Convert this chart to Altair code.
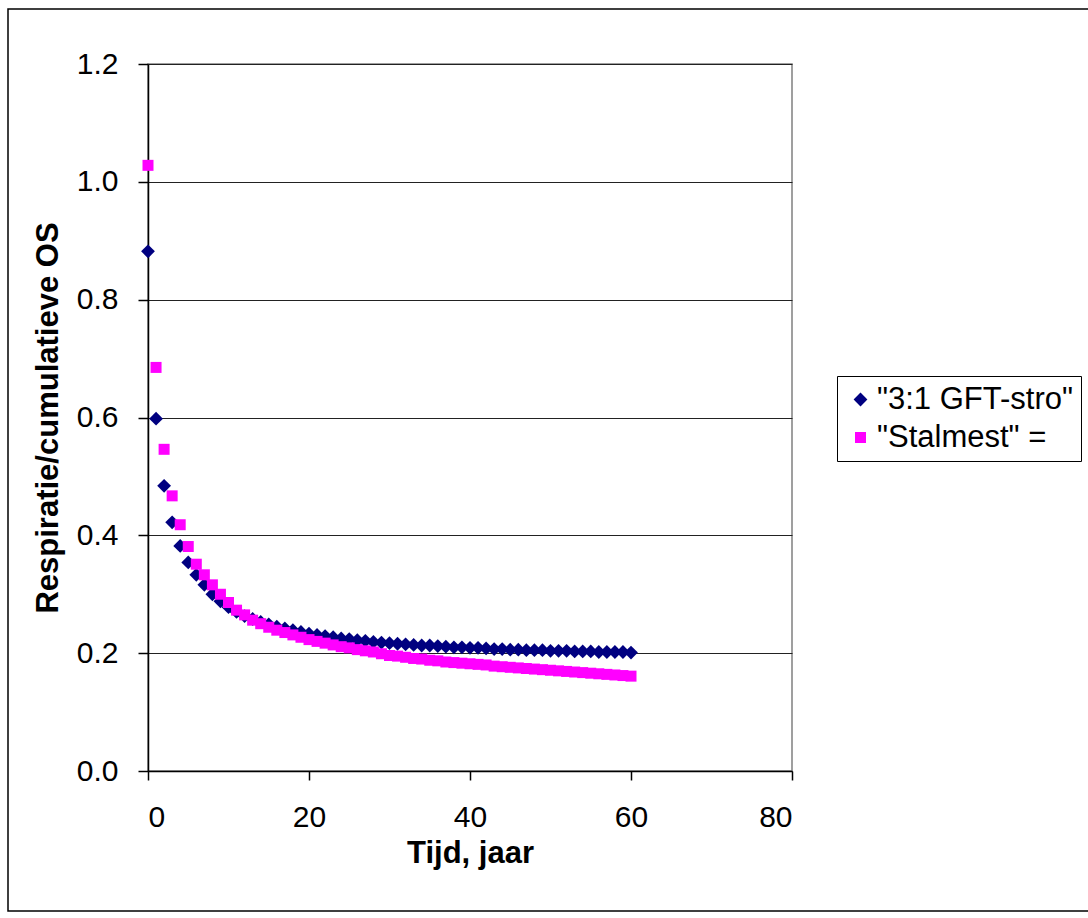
import altair as alt
import pandas as pd

years = list(range(61))

gft = [0.882, 0.598, 0.484, 0.422, 0.382, 0.354, 0.333, 0.316, 0.300, 0.288,
       0.278, 0.270, 0.263, 0.258, 0.253, 0.249, 0.245, 0.242, 0.239, 0.236,
       0.233, 0.231, 0.229, 0.227, 0.225, 0.224, 0.222, 0.221, 0.219, 0.218,
       0.217, 0.216, 0.215, 0.214, 0.213, 0.213, 0.212, 0.211, 0.210, 0.210,
       0.209, 0.209, 0.208, 0.207, 0.207, 0.206, 0.206, 0.205, 0.205, 0.205,
       0.204, 0.204, 0.204, 0.203, 0.203, 0.203, 0.202, 0.202, 0.202, 0.202,
       0.201]

stalmest = [1.028, 0.685, 0.546, 0.467, 0.418, 0.381, 0.351, 0.333, 0.316, 0.300,
            0.286, 0.273, 0.265, 0.256, 0.250, 0.244, 0.239, 0.235, 0.231, 0.227,
            0.223, 0.220, 0.217, 0.214, 0.211, 0.209, 0.206, 0.204, 0.202, 0.199,
            0.196, 0.195, 0.193, 0.191, 0.190, 0.188, 0.187, 0.185, 0.184, 0.183,
            0.182, 0.181, 0.180, 0.178, 0.177, 0.176, 0.175, 0.174, 0.173, 0.172,
            0.171, 0.170, 0.169, 0.168, 0.167, 0.166, 0.165, 0.164, 0.163, 0.162,
            0.161]

series_names = ['"3:1 GFT-stro"', '"Stalmest" =']
series_colors = ["#000080", "#FF00FF"]
series_shapes = ["diamond", "square"]
series_sizes = [190, 121]

x_ticks = [0, 20, 40, 60, 80]
y_ticks = [0.0, 0.2, 0.4, 0.6, 0.8, 1.0, 1.2]

rows = []
for name, vals in zip(series_names, [gft, stalmest]):
    for t, v in zip(years, vals):
        rows.append({"t": t, "v": v, "s": name})
df = pd.DataFrame(rows)

FONT = "Liberation Sans"

points = alt.Chart(df).mark_point(filled=True, opacity=1).encode(
    x=alt.X("t:Q", scale=alt.Scale(domain=[0, 80], nice=False),
            axis=alt.Axis(values=x_ticks, title="Tijd, jaar", grid=False,
                          tickSize=9, labelPadding=22, titlePadding=6)),
    y=alt.Y("v:Q", scale=alt.Scale(domain=[0, 1.2], nice=False),
            axis=alt.Axis(values=y_ticks, format=".1f", title="Respiratie/cumulatieve OS",
                          grid=True, tickSize=10, labelPadding=20, titlePadding=12)),
    color=alt.Color("s:N", scale=alt.Scale(domain=series_names, range=series_colors),
                    legend=alt.Legend(title=None)),
    shape=alt.Shape("s:N", scale=alt.Scale(domain=series_names, range=series_shapes),
                    legend=alt.Legend(title=None)),
    size=alt.Size("s:N", scale=alt.Scale(domain=series_names, range=series_sizes),
                  legend=None),
    order=alt.Order("s:N"),
)

border = alt.Chart(pd.DataFrame({"a": [0]})).mark_rect(
    fill="transparent", stroke="black", strokeWidth=1.5
).encode(
    x=alt.value(-140), x2=alt.value(950),
    y=alt.value(-55), y2=alt.value(847),
)

chart = alt.layer(border, points).properties(
    width=644, height=707,
    autosize=alt.AutoSizeParams(type="none"),
    padding={"left": 148, "top": 64, "right": 296, "bottom": 147},
    background="white",
).configure_view(
    stroke="#808080", strokeWidth=1.5
).configure_axis(
    labelFont=FONT, titleFont=FONT, labelFontSize=30, titleFontSize=31,
    labelColor="black", titleColor="black", titleFontWeight="bold",
    domainColor="black", tickColor="black", gridColor="#222222",
    domainWidth=1.5, tickWidth=1.5, gridWidth=1,
).configure_legend(
    orient="none", legendX=689, legendY=312,
    strokeColor="black", strokeWidth=1, fillColor="white",
    padding=8, labelFont=FONT, labelFontSize=31, labelColor="black",
    symbolSize=90, symbolStrokeWidth=0, rowPadding=6, labelOffset=1,
    labelLimit=400,
)

chart.save("out.html", embed_options={"renderer": "svg", "actions": False})
